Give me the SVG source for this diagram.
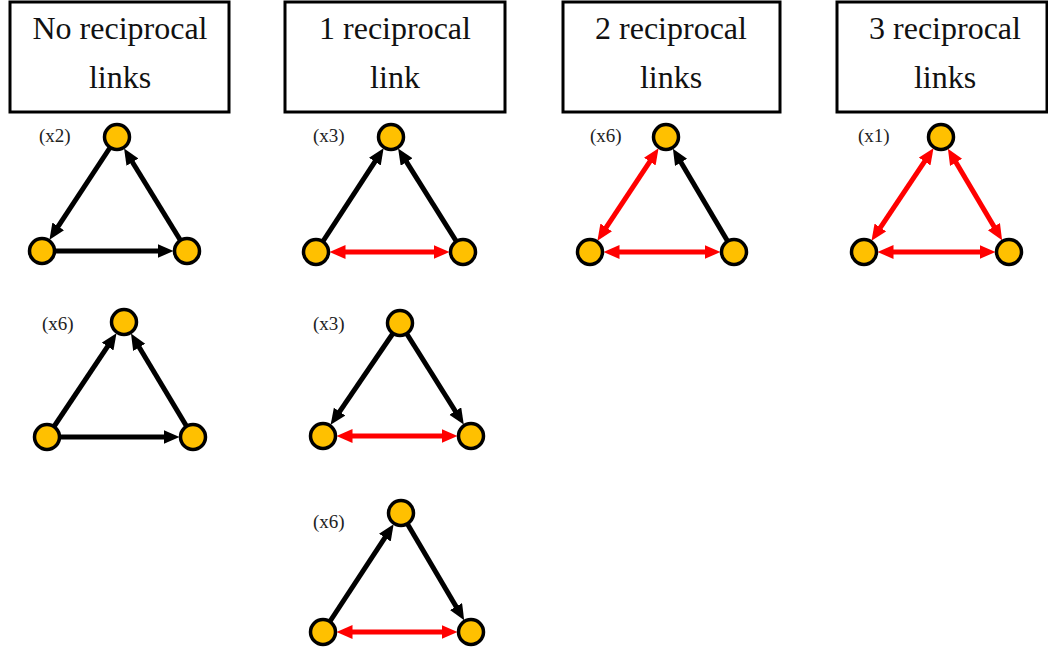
<svg xmlns="http://www.w3.org/2000/svg" width="1048" height="652" viewBox="0 0 1048 652">
<style>
.box{fill:#fff;stroke:#000;stroke-width:3}
.title{font-family:"Liberation Serif",serif;font-size:32px;fill:#111;text-anchor:middle}
.lbl{font-family:"Liberation Serif",serif;font-size:19px;fill:#222}
.n{fill:#FFC000;stroke:#000;stroke-width:3.5}
.k{stroke:#000;stroke-width:5;fill:none;marker-end:url(#ak)}
.r{stroke:#FF0000;stroke-width:5;fill:none;marker-start:url(#ar);marker-end:url(#ar)}
</style>
<defs>
<marker id="ak" markerUnits="userSpaceOnUse" markerWidth="18" markerHeight="16" refX="7" refY="7" orient="auto-start-reverse"><path d="M0,0 L16,7 L0,14 z" fill="#000"/></marker>
<marker id="ar" markerUnits="userSpaceOnUse" markerWidth="18" markerHeight="16" refX="7" refY="7" orient="auto-start-reverse"><path d="M0,0 L16,7 L0,14 z" fill="#FF0000"/></marker>
</defs>
<rect width="1048" height="652" fill="#fff"/>
<g id="header-none"><rect class="box" x="10" y="2" width="219" height="110"/><text class="title" x="120" y="39">No reciprocal</text><text class="title" x="120" y="88">links</text></g>
<g id="header-one"><rect class="box" x="285" y="2" width="220" height="110"/><text class="title" x="395" y="39">1 reciprocal</text><text class="title" x="395" y="88">link</text></g>
<g id="header-two"><rect class="box" x="563" y="2" width="217" height="110"/><text class="title" x="671" y="39">2 reciprocal</text><text class="title" x="671" y="88">links</text></g>
<g id="header-three"><rect class="box" x="837" y="2" width="210" height="110"/><text class="title" x="945" y="39">3 reciprocal</text><text class="title" x="945" y="88">links</text></g>

<g id="connectors">
<line class="k" x1="117" y1="137" x2="54.4" y2="232.2"/>
<line class="k" x1="42" y1="251" x2="164.5" y2="251"/>
<line class="k" x1="187" y1="251" x2="128.8" y2="156.2"/>

<line class="k" x1="316" y1="252" x2="378.7" y2="155.8"/>
<line class="k" x1="463" y1="252" x2="402.9" y2="156.1"/>
<line class="r" x1="338.5" y1="252" x2="440.5" y2="252"/>

<line class="r" x1="653.6" y1="155.8" x2="602.4" y2="233.2"/>
<line class="r" x1="612.5" y1="252" x2="711.5" y2="252"/>
<line class="k" x1="734" y1="252" x2="677.5" y2="156.4"/>

<line class="r" x1="928.5" y1="155.7" x2="876.5" y2="233.3"/>
<line class="r" x1="952.5" y1="156.4" x2="997.5" y2="232.6"/>
<line class="r" x1="886.5" y1="252" x2="986.5" y2="252"/>

<line class="k" x1="47" y1="437" x2="111.5" y2="340.7"/>
<line class="k" x1="193" y1="437" x2="135.6" y2="341.3"/>
<line class="k" x1="47" y1="437" x2="170.5" y2="437"/>

<line class="k" x1="400" y1="323" x2="335.7" y2="417.4"/>
<line class="k" x1="400" y1="323" x2="459.0" y2="417.0"/>
<line class="r" x1="345.5" y1="436" x2="448.5" y2="436"/>

<line class="k" x1="323" y1="632" x2="388.7" y2="531.8"/>
<line class="k" x1="401" y1="513" x2="459.6" y2="612.6"/>
<line class="r" x1="345.5" y1="632" x2="448.5" y2="632"/>
</g>

<g id="motif-none-a"><text class="lbl" x="39" y="142">(x2)</text><circle class="n" cx="117" cy="137" r="12.5"/><circle class="n" cx="42" cy="251" r="12.5"/><circle class="n" cx="187" cy="251" r="12.5"/></g>
<g id="motif-one-a"><text class="lbl" x="313" y="142">(x3)</text><circle class="n" cx="391" cy="137" r="12.5"/><circle class="n" cx="316" cy="252" r="12.5"/><circle class="n" cx="463" cy="252" r="12.5"/></g>
<g id="motif-two"><text class="lbl" x="590" y="142">(x6)</text><circle class="n" cx="666" cy="137" r="12.5"/><circle class="n" cx="590" cy="252" r="12.5"/><circle class="n" cx="734" cy="252" r="12.5"/></g>
<g id="motif-three"><text class="lbl" x="858" y="142">(x1)</text><circle class="n" cx="941" cy="137" r="12.5"/><circle class="n" cx="864" cy="252" r="12.5"/><circle class="n" cx="1009" cy="252" r="12.5"/></g>
<g id="motif-none-b"><text class="lbl" x="42" y="330">(x6)</text><circle class="n" cx="124" cy="322" r="12.5"/><circle class="n" cx="47" cy="437" r="12.5"/><circle class="n" cx="193" cy="437" r="12.5"/></g>
<g id="motif-one-b"><text class="lbl" x="313" y="330">(x3)</text><circle class="n" cx="400" cy="323" r="12.5"/><circle class="n" cx="323" cy="436" r="12.5"/><circle class="n" cx="471" cy="436" r="12.5"/></g>
<g id="motif-one-c"><text class="lbl" x="313" y="528">(x6)</text><circle class="n" cx="401" cy="513" r="12.5"/><circle class="n" cx="323" cy="632" r="12.5"/><circle class="n" cx="471" cy="632" r="12.5"/></g>
</svg>
